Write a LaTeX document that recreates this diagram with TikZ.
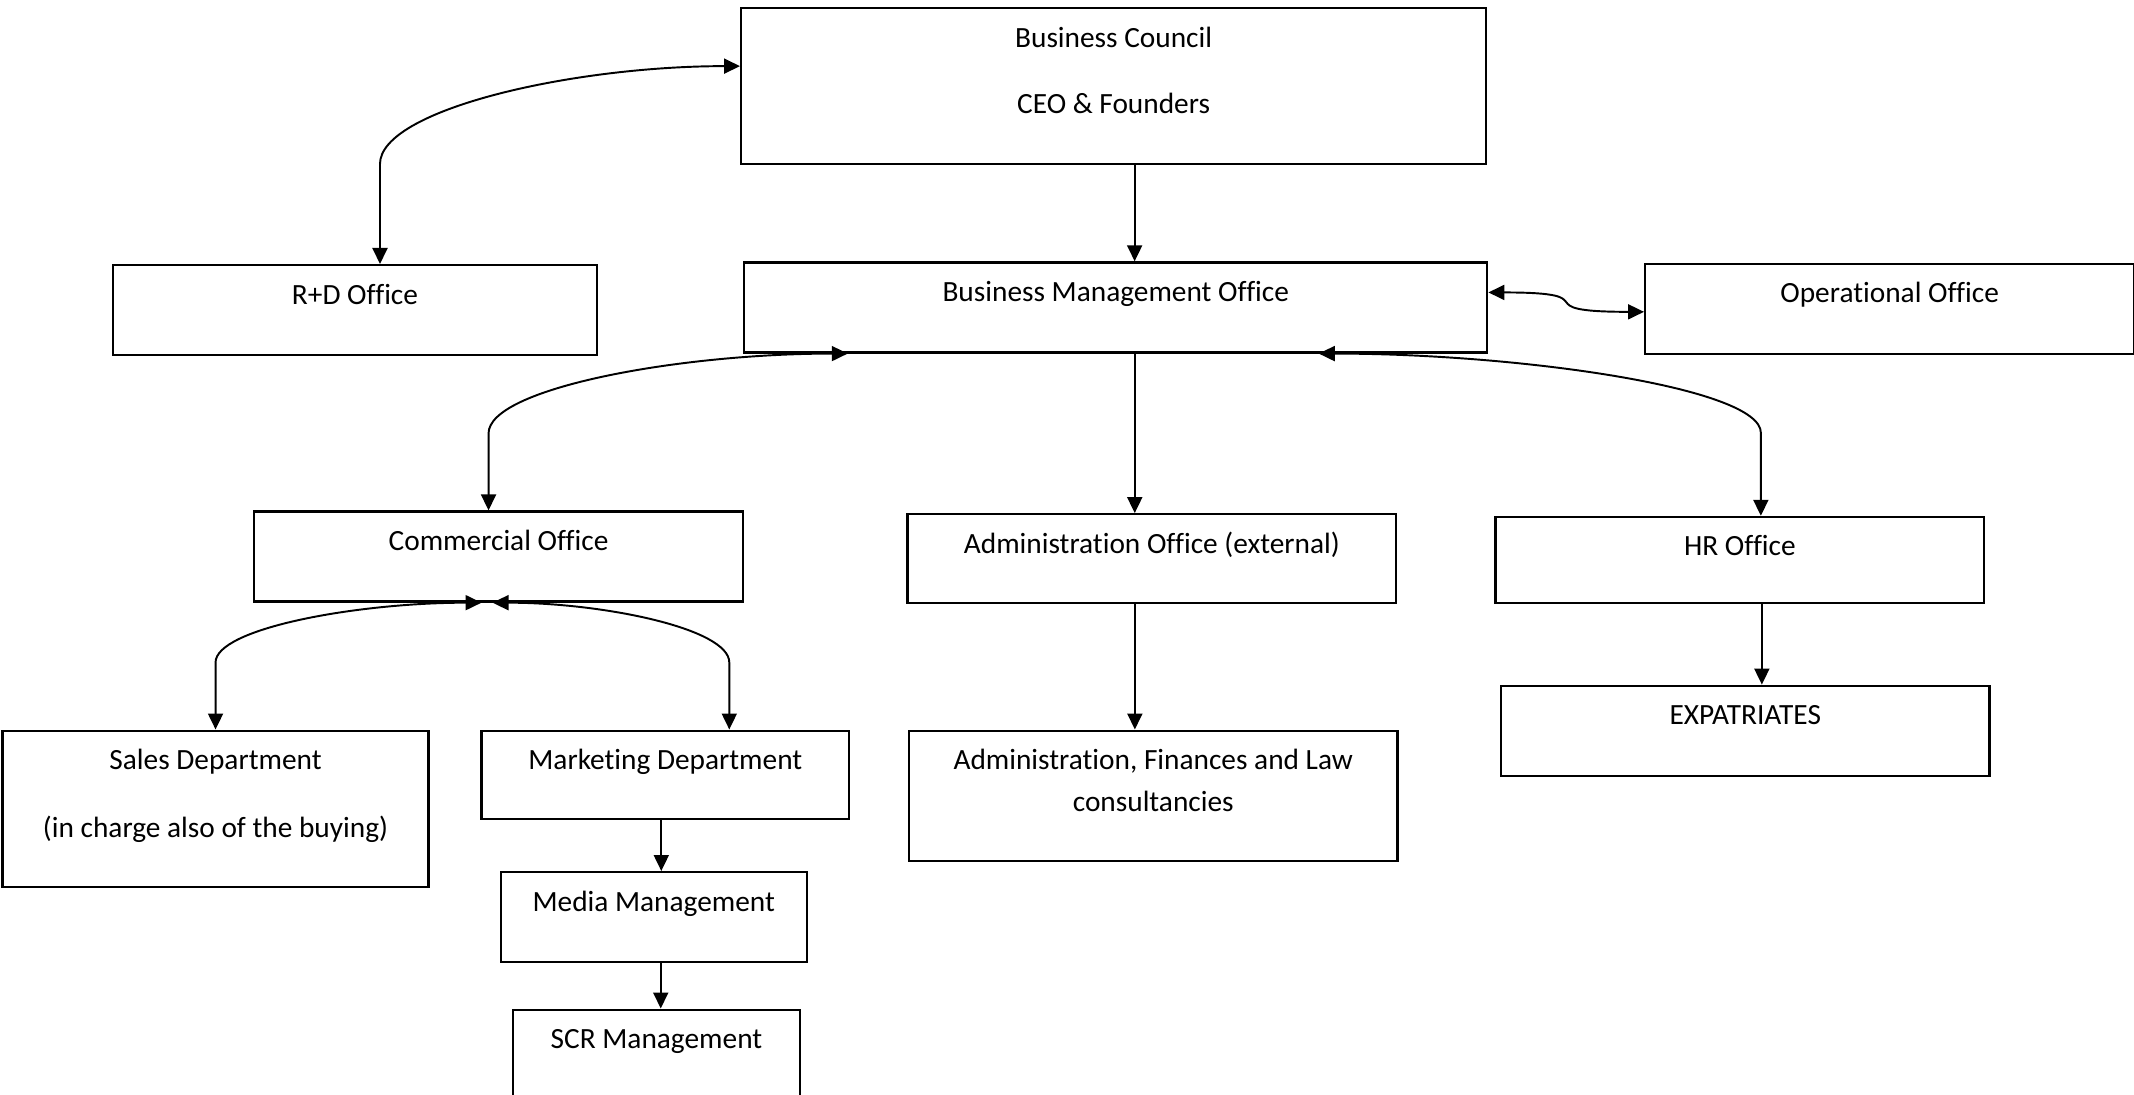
\documentclass[tikz,border=0pt]{standalone}
\usepackage{fontspec}
\setmainfont{Carlito}[Ligatures=NoCommon]
\usetikzlibrary{arrows.meta}

\begin{document}
\begin{tikzpicture}[>={Triangle[length=1.6mm,width=1.5mm]}, line width=0.55pt, font=\fontsize{8.35}{9.6}\selectfont,
  box/.style = {draw, line width=0.65pt, anchor=north west, inner sep=0pt, text height=3.9mm}]
  \useasboundingbox (0,0) rectangle (21.34,-10.95);
  % boxes
  \node[box, minimum width=7.45cm, text depth=11.7mm] (bc) at (7.40,-0.07) {\begin{tabular}[t]{@{}c@{}}Business Council\\[3.3mm]CEO \& Founders\end{tabular}};
  \node[box, minimum width=4.845cm, text depth=5.1mm] (rd) at (1.116,-2.64) {R+D Office};
  \node[box, minimum width=7.43cm, text depth=5.1mm] (bmo) at (7.431,-2.613) {Business Management Office};
  \node[box, minimum width=4.89cm, text depth=5.1mm] (op) at (16.44,-2.627) {Operational Office};
  \node[box, minimum width=4.886cm, text depth=5.1mm] (com) at (2.531,-5.104) {Commercial Office};
  \node[box, minimum width=4.886cm, text depth=4.95mm] (adm) at (9.064,-5.131) {Administration Office (external)};
  \node[box, minimum width=4.886cm, text depth=4.7mm] (hr) at (14.944,-5.158) {HR Office};
  \node[box, minimum width=4.26cm, text depth=11.75mm] (sales) at (0.014,-7.295) {\begin{tabular}[t]{@{}c@{}}Sales Department\\[3.4mm](in charge also of the buying)\end{tabular}};
  \node[box, minimum width=3.675cm, text depth=4.95mm] (mkt) at (4.804,-7.295) {Marketing Department};
  \node[box, minimum width=4.886cm, text depth=9.15mm] (af) at (9.078,-7.295) {\begin{tabular}[t]{@{}c@{}}Administration, Finances and Law\\[0.8mm]consultancies\end{tabular}};
  \node[box, minimum width=4.886cm, text depth=5.1mm] (exp) at (14.998,-6.846) {EXPATRIATES};
  \node[box, minimum width=3.062cm, text depth=5.1mm] (media) at (4.995,-8.71) {Media Management};
  \node[box, minimum width=2.872cm, text depth=9mm] (scr) at (5.117,-10.085) {SCR Management};
  % straight links
  \draw[->] ([xshift=2.1mm]bc.south) -- ([xshift=2.1mm]bc.south |- bmo.north);
  \draw[->] ([xshift=1.9mm]bmo.south) -- ([xshift=1.9mm]bmo.south |- adm.north);
  \draw[->] ([xshift=-1.7mm]adm.south) -- ([xshift=-1.7mm]adm.south |- af.north);
  \draw[->] ([xshift=2.2mm]hr.south) -- ([xshift=2.2mm]hr.south |- exp.north);
  \draw[->] ([xshift=-0.4mm]mkt.south) -- ([xshift=-0.4mm]mkt.south |- media.north);
  \draw[->] ([xshift=0.7mm]media.south) -- ([xshift=0.7mm]media.south |- scr.north);
  % curved links
  \draw[<->] ([xshift=2.5mm]rd.north) -- ++(0,1.0) .. controls +(0,0.54) and +(-1.69,0) .. ([yshift=2mm]bc.west);
  \draw[<->] ([yshift=1.5mm]bmo.east) .. controls +(1.25,0) and +(-1.25,0) .. ([yshift=-0.3mm]op.west);
  \draw[<->] ([xshift=-1mm]com.north) -- ++(0,0.77) .. controls +(0,0.45) and +(-1.69,0) .. ([xshift=-26.8mm]bmo.south);
  \draw[<->] ([xshift=2.1mm]hr.north) -- ++(0,0.83) .. controls +(0,0.45) and +(2.0,0) .. ([xshift=20.3mm]bmo.south);
  \draw[<->] (sales.north) -- ++(0,0.67) .. controls +(0,0.34) and +(-1.25,0) .. ([xshift=-1.7mm]com.south);
  \draw[<->] ([xshift=6.4mm]mkt.north) -- ++(0,0.67) .. controls +(0,0.34) and +(1.1,0) .. ([xshift=-0.6mm]com.south);
\end{tikzpicture}
\end{document}
